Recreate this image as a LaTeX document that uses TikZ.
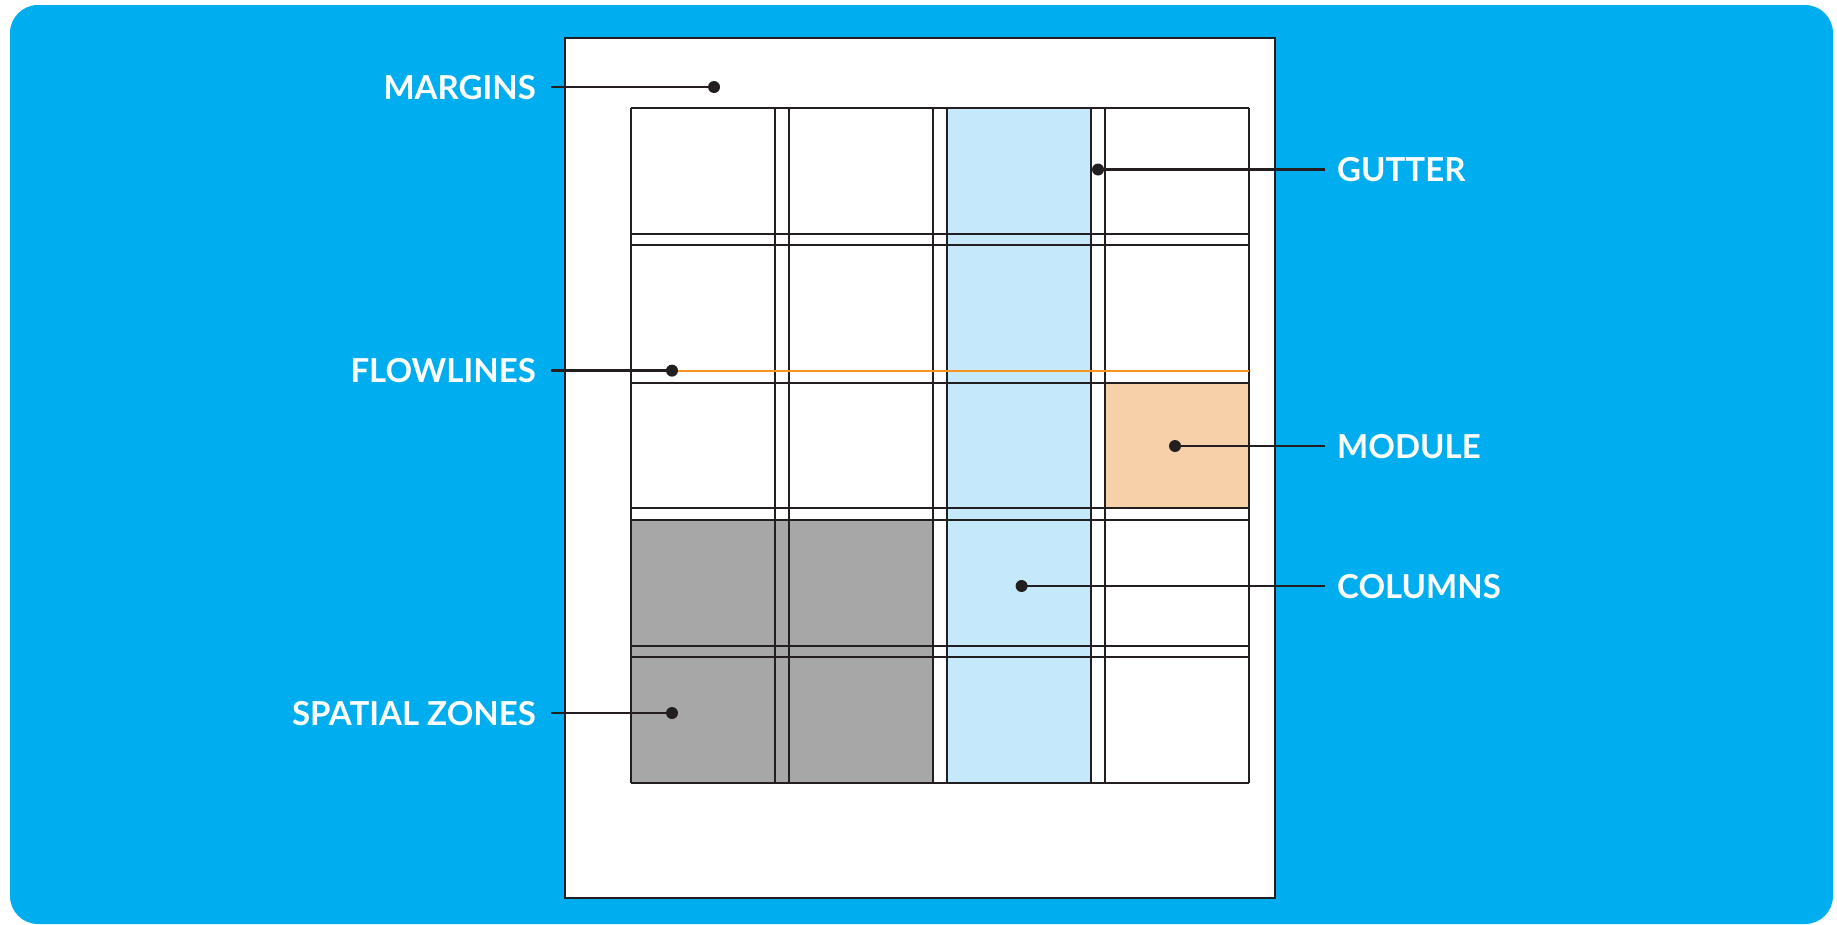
\documentclass[tikz,border=0pt]{standalone}
\usepackage{fontspec}
\setmainfont{Lato}
\definecolor{bgblue}{HTML}{00AEEF}
\definecolor{colblue}{HTML}{C5E9FA}
\definecolor{zonegray}{HTML}{A7A7A7}
\definecolor{peach}{HTML}{F6D0A8}
\definecolor{flow}{HTML}{F7941E}
\definecolor{ink}{HTML}{231F20}
\tikzset{
  lbl/.style={text=white, font=\bfseries\fontsize{33}{33}\selectfont, inner sep=0pt, text depth=0pt},
  leader/.style={draw=ink, line width=2.5pt},
  dotst/.style={circle, fill=ink, minimum size=12pt, inner sep=0pt},
  gridline/.style={draw=ink, line width=2pt},
  pageframe/.style={draw=ink, line width=2.5pt, fill=white}
}
\begin{document}
\begin{tikzpicture}[x=1pt,y=-1pt]
\useasboundingbox (0,0) rectangle (1837,924);
\fill[bgblue, rounded corners=28pt] (10,5) rectangle (1833,924);
% page
\draw[pageframe] (565,38) rectangle (1275,898);
% fills
\fill[colblue] (947.2,107.8) rectangle (1091.2,783.2);
\fill[zonegray] (631,519.4) rectangle (933.1,783.2);
\fill[peach] (1105.3,382.6) rectangle (1249.3,508.4);
% grid lines
\foreach \i in {0,...,3}{
  \draw[gridline] ({631+158.1*\i},107.8) -- ({631+158.1*\i},783.2);
  \draw[gridline] ({631+158.1*\i+144},107.8) -- ({631+158.1*\i+144},783.2);
}
\foreach \i in {0,...,4}{
  \draw[gridline] (631,{107.8+137.4*\i}) -- (1249.3,{107.8+137.4*\i});
}
\foreach \i in {0,2,3,4}{
  \draw[gridline] (631,{107.8+137.4*\i+125.8}) -- (1249.3,{107.8+137.4*\i+125.8});
}
\draw[draw=flow, line width=2pt] (631,370.6) -- (1249.3,370.6);
% labels
\node[lbl, anchor=east] (margins) at (536,87) {MARGINS};
\node[lbl, anchor=east] (flowlines) at (536,370.6) {FLOWLINES};
\node[lbl, anchor=east] (zones) at (536,713) {SPATIAL ZONES};
\node[lbl, anchor=west] (gutter) at (1337,169.5) {GUTTER};
\node[lbl, anchor=west] (module) at (1337,446) {MODULE};
\node[lbl, anchor=west] (columns) at (1337,586) {COLUMNS};
% dots
\node[dotst] (dM) at (714,87) {};
\node[dotst] (dF) at (672,370.6) {};
\node[dotst] (dZ) at (672,713) {};
\node[dotst] (dG) at (1098,169.5) {};
\node[dotst] (dMo) at (1175,446) {};
\node[dotst] (dC) at (1021.6,586) {};
% leaders
\draw[leader] ([xshift=15pt]margins.east) -- (dM.center);
\draw[leader] ([xshift=15pt]flowlines.east) -- (dF.center);
\draw[leader] ([xshift=15pt]zones.east) -- (dZ.center);
\draw[leader] ([xshift=-12pt]gutter.west) -- (dG.center);
\draw[leader] ([xshift=-12pt]module.west) -- (dMo.center);
\draw[leader] ([xshift=-12pt]columns.west) -- (dC.center);
\end{tikzpicture}
\end{document}
